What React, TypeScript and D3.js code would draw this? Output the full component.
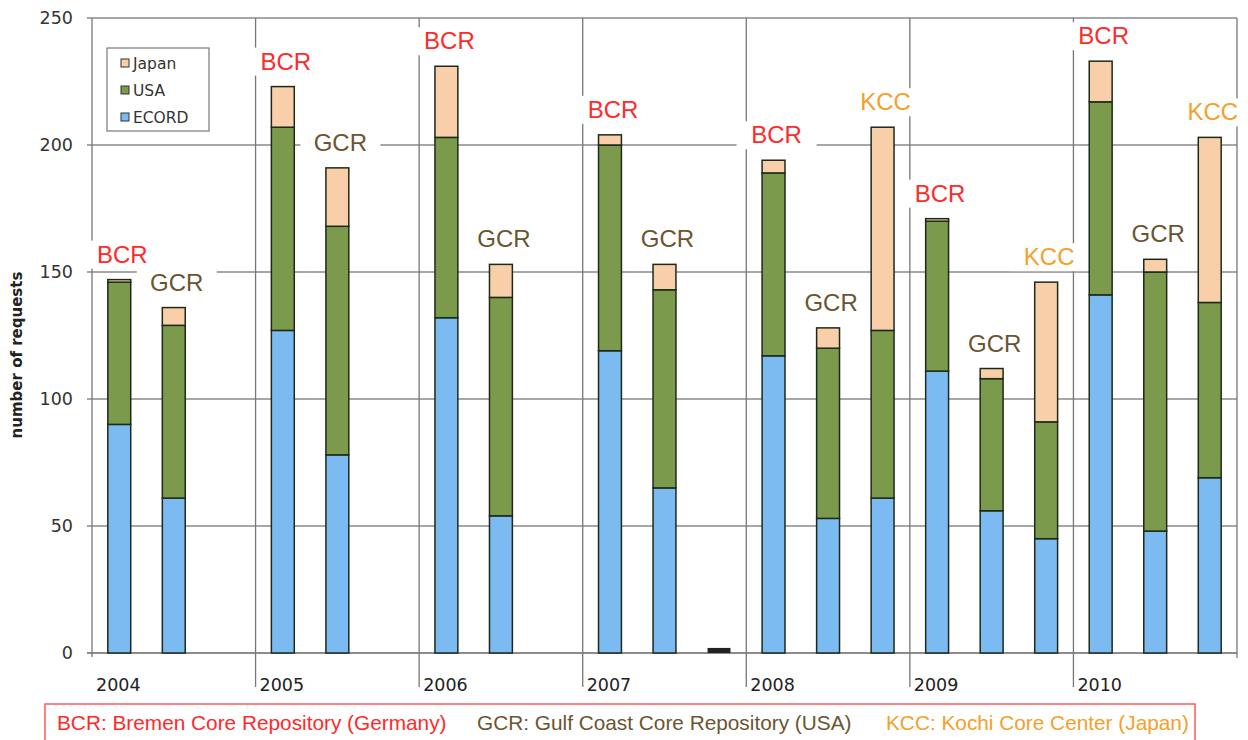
import React from "react";
import * as d3 from "d3";

const years = ["2004", "2005", "2006", "2007", "2008", "2009", "2010"];
const repos = ["BCR", "GCR", "KCC"];
// values per slot (year × repository), in order years × repos
const ecord = [90, 61, 0, 127, 78, 0, 132, 54, 0, 119, 65, 0, 117, 53, 61, 111, 56, 45, 141, 48, 69];
const usa = [56, 68, 0, 80, 90, 0, 71, 86, 0, 81, 78, 0, 72, 67, 66, 59, 52, 46, 76, 102, 69];
const japan = [1, 7, 0, 16, 23, 0, 28, 13, 0, 4, 10, 0, 5, 8, 80, 1, 4, 55, 16, 5, 65];
const other = [0, 0, 0, 0, 0, 0, 0, 0, 0, 0, 0, 2, 0, 0, 0, 0, 0, 0, 0, 0, 0];
const showLabel = [1, 1, 0, 1, 1, 0, 1, 1, 0, 1, 1, 0, 1, 1, 1, 1, 1, 1, 1, 1, 1];
const yTicks = [0, 50, 100, 150, 200, 250];
const legendItems = ["Japan", "USA", "ECORD"];
const footnotes = [
  "BCR: Bremen Core Repository (Germany)",
  "GCR: Gulf Coast Core Repository (USA)",
  "KCC: Kochi Core Center (Japan)",
];

const COL = { ECORD: "#7cbaf2", USA: "#7b9a4c", Japan: "#f8cfa8", other: "#222" };
const LABEL_COL: Record<string, string> = { BCR: "#ff2a2a", GCR: "#6b5530", KCC: "#f5a02a" };

export default function App() {
  const W = 1248, H = 740;
  const left = 92, right = 1237, top = 18, bottom = 653;
  const slots = years.flatMap((y) => repos.map((r) => `${y}-${r}`));
  const x = d3.scaleBand().domain(slots).range([left, right]).paddingInner(0.58).paddingOuter(0.29);
  const xg = d3.scaleBand().domain(years).range([left, right]);
  const y = d3.scaleLinear().domain([0, 250]).range([bottom, top]);
  const bw = x.bandwidth();
  const font = "'DejaVu Sans', Verdana, sans-serif";
  const lfont = "'Liberation Sans', Arial, Helvetica, sans-serif";

  const bars: React.ReactNode[] = [];
  const labels: React.ReactNode[] = [];
  slots.forEach((s, i) => {
    const bx = x(s)!;
    const segs = [
      { v: ecord[i], c: COL.ECORD },
      { v: usa[i], c: COL.USA },
      { v: japan[i], c: COL.Japan },
    ];
    let base = 0;
    segs.forEach((sg, j) => {
      if (sg.v > 0) {
        bars.push(
          <rect key={`${s}-${j}`} x={bx} y={y(base + sg.v)} width={bw} height={y(base) - y(base + sg.v)}
            fill={sg.c} stroke="#1d2a1a" strokeWidth={1.5} />
        );
      }
      base += sg.v;
    });
    if (other[i] > 0) {
      bars.push(
        <rect key={`${s}-o`} x={bx} y={y(other[i])} width={bw} height={y(0) - y(other[i])} fill={COL.other} />
      );
    }
    if (showLabel[i]) {
      const rep = repos[i % 3];
      const cx = bx + bw / 2 + 3;
      const ty = y(base) - 17;
      labels.push(
        <g key={`${s}-l`}>
          <rect x={cx - 40} y={ty - 22} width={80} height={28} fill="#fff" />
          <text x={cx} y={ty} textAnchor="middle" fontFamily={lfont} fontSize={24} fill={LABEL_COL[rep]}>{rep}</text>
        </g>
      );
    }
  });

  return (
    <svg width={W} height={H} style={{ position: "absolute", left: 0, top: 0, background: "#fff" }}>
      <rect width={W} height={H} fill="#fff" />
      {/* horizontal grid */}
      {yTicks.map((t) => (
        <g key={t}>
          <line x1={left - 5} x2={right} y1={y(t)} y2={y(t)} stroke={t === 0 ? "#666" : "#8a8a8a"} strokeWidth={1.4} />
          <text x={73} y={y(t) + 6} textAnchor="end" fontFamily={font} fontSize={17.5} fill="#333">{t}</text>
        </g>
      ))}
      {/* vertical group lines */}
      {years.map((yr) => (
        <g key={yr}>
          <line x1={xg(yr)!} x2={xg(yr)!} y1={top} y2={yr === years[0] ? bottom + 4 : bottom + 34} stroke="#777" strokeWidth={1.3} />
          <text x={xg(yr)! + 4} y={691} fontFamily={font} fontSize={17.5} fill="#222">{yr}</text>
        </g>
      ))}
      <line x1={right} x2={right} y1={top} y2={bottom + 5} stroke="#777" strokeWidth={1.3} />
      {labels}
      {bars}
      {/* legend */}
      <g>
        <rect x={107} y={48} width={102} height={83} fill="#fff" stroke="#777" strokeWidth={1.2} />
        {legendItems.map((k, i) => (
          <g key={k}>
            <rect x={121} y={59 + i * 27} width={8} height={8} fill={(COL as any)[k]} stroke="#333" strokeWidth={1} />
            <text x={133} y={69 + i * 27} fontFamily={font} fontSize={15.5} fill="#333">{k}</text>
          </g>
        ))}
      </g>
      {/* y label */}
      <text transform={`translate(22,${355}) rotate(-90)`} textAnchor="middle" fontFamily={font} fontSize={15}
        fontWeight="bold" fill="#222">number of requests</text>
      {/* footnote box */}
      <rect x={45} y={704} width={1150} height={50} fill="#fff" stroke="#ff5a5a" strokeWidth={1.5} />
      <text x={57} y={730} fontFamily={lfont} fontSize={20.8} fill="#ff2a2a">{footnotes[0]}</text>
      <text x={477} y={730} fontFamily={lfont} fontSize={20.8} fill="#6b5530">{footnotes[1]}</text>
      <text x={886} y={730} fontFamily={lfont} fontSize={20.8} fill="#f5a02a">{footnotes[2]}</text>
    </svg>
  );
}
